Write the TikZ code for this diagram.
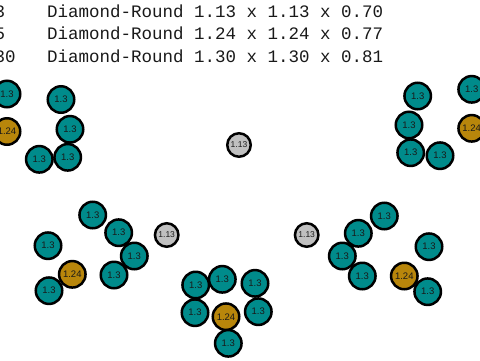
\documentclass[tikz,border=0pt]{standalone}
\usepackage{fontspec}
\setmainfont{Liberation Sans}
\newfontfamily\monofnt{Liberation Mono}
\definecolor{tealc}{RGB}{0,139,139}
\definecolor{goldc}{RGB}{184,134,11}
\definecolor{grayc}{RGB}{192,192,192}
\definecolor{txt}{RGB}{25,25,25}
\tikzset{
  ball/.style={circle,draw=black,line width=2.5pt,inner sep=0pt,minimum size=26.5pt,font=\fontsize{9.5}{10}\selectfont,text=txt},
  tball/.style={ball,fill=tealc},
  gball/.style={ball,fill=goldc},
  sball/.style={ball,fill=grayc,minimum size=23.5pt,font=\fontsize{8.5}{9}\selectfont},
  hdr/.style={anchor=base west,inner sep=0pt,font=\monofnt\fontsize{17.5}{20}\selectfont,text=txt}
}
\begin{document}
\begin{tikzpicture}[x=1pt,y=-1pt]
\useasboundingbox (0,0) rectangle (480,360);
\clip (0,0) rectangle (480,360);
\node[hdr] (h1) at (-5.5,17) {3~~~~Diamond-Round~1.13~x~1.13~x~0.70};
\node[hdr] (h2) at (-5.5,39.5) {5~~~~Diamond-Round~1.24~x~1.24~x~0.77};
\node[hdr] (h3) at (-5.5,62) {30~~~Diamond-Round~1.30~x~1.30~x~0.81};
% centre
\node[sball] (c0) at (239,145) {1.13};
% top left group
\node[tball] (a1) at (7,94) {1.3};
\node[tball] (a2) at (61,99.5) {1.3};
\node[gball] (a3) at (7,131.5) {1.24};
\node[tball] (a4) at (70,129.3) {1.3};
\node[tball] (a5) at (39.3,159.3) {1.3};
\node[tball] (a6) at (67.7,157.3) {1.3};
% top right group
\node[tball] (b1) at (417.7,96) {1.3};
\node[tball] (b2) at (471.7,89.3) {1.3};
\node[gball] (b3) at (471.7,128.3) {1.24};
\node[tball] (b4) at (409,125) {1.3};
\node[tball] (b5) at (410.7,152.7) {1.3};
\node[tball] (b6) at (440,155.7) {1.3};
% lower left group
\node[tball] (d1) at (92.7,215) {1.3};
\node[tball] (d2) at (118.7,232.7) {1.3};
\node[sball] (d3) at (166.7,235) {1.13};
\node[tball] (d4) at (48,245.7) {1.3};
\node[tball] (d5) at (134.3,256) {1.3};
\node[gball] (d6) at (72.3,274.3) {1.24};
\node[tball] (d7) at (114,275) {1.3};
\node[tball] (d8) at (49,290.7) {1.3};
% bottom group
\node[tball] (e1) at (195.7,285) {1.3};
\node[tball] (e2) at (222.3,279.3) {1.3};
\node[tball] (e3) at (255,283.3) {1.3};
\node[tball] (e4) at (195,312.7) {1.3};
\node[gball] (e5) at (226,316.7) {1.24};
\node[tball] (e6) at (258.3,311.7) {1.3};
\node[tball] (e7) at (228.3,343.3) {1.3};
% lower right group
\node[sball] (f1) at (306.7,235) {1.13};
\node[tball] (f2) at (384.3,216) {1.3};
\node[tball] (f3) at (358.3,233.3) {1.3};
\node[tball] (f4) at (342.3,256) {1.3};
\node[tball] (f5) at (362.3,276) {1.3};
\node[tball] (f6) at (429,246.7) {1.3};
\node[gball] (f7) at (404.3,276) {1.24};
\node[tball] (f8) at (427.7,291.7) {1.3};
\end{tikzpicture}
\end{document}
